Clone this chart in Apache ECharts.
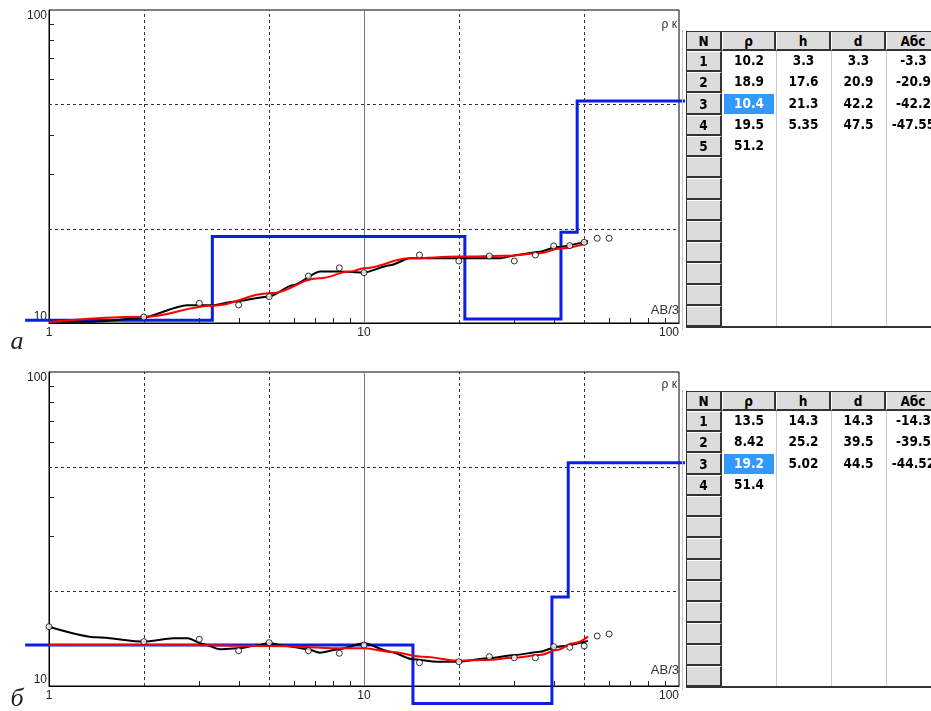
<!DOCTYPE html>
<html>
<head>
<meta charset="utf-8">
<script src="https://cdn.jsdelivr.net/npm/echarts@6/dist/echarts.min.js"></script>
<style>
html,body{margin:0;padding:0;background:#fff;width:931px;height:711px;overflow:hidden;position:relative;}
#chart{position:absolute;left:0;top:0;width:931px;height:711px;z-index:1;}
.tb{position:absolute;box-sizing:border-box;font-family:'DejaVu Sans Condensed','DejaVu Sans',sans-serif;font-weight:bold;font-size:13.5px;color:#000;text-align:center;white-space:nowrap;overflow:hidden;z-index:2;}
.btn{background:#dcdcdc;border-top:1px solid #fff;border-left:1px solid #fff;border-right:2px solid #333;border-bottom:2px solid #333;}
</style>
</head>
<body>
<div id="chart"></div>
<script>
// ---------------- DATA ----------------
// Panel "а"
const obsA_x   = [1.0, 1.38, 1.94, 2.74, 3.32, 3.84, 5.0, 5.95, 7.25, 8.3, 10, 12.1, 14.0, 27.0, 30.6, 36.2, 41.0, 51.4];
const obsA_y   = [10.1, 10.1, 10.35, 11.4, 11.4, 11.7, 12.15, 13.2, 14.6, 14.6, 14.5, 15.3, 16.1, 16.1, 16.5, 16.9, 17.5, 18.3];
const fitA_x   = [1.0, 2.0, 3.32, 5.0, 7.25, 9.03, 10, 14.0, 20.1, 28.4, 36.2, 41.9, 51.4];
const fitA_y   = [10.07, 10.47, 11.36, 12.44, 13.9, 14.6, 14.95, 16.1, 16.3, 16.4, 16.7, 17.3, 18.05];
const ptsA_x   = [2, 3, 4, 5, 6.66, 8.35, 10, 15, 20, 25, 30, 35, 40, 45, 50, 55, 60];
const ptsA_y   = [10.45, 11.56, 11.42, 12.14, 14.13, 15.0, 14.48, 16.49, 15.78, 16.37, 15.78, 16.49, 17.62, 17.67, 18.1, 18.65, 18.65];
const modelA_depth = [3.3, 20.9, 42.2, 47.5];
const modelA_rho   = [10.2, 18.9, 10.3, 19.5, 51.2];

// Panel "б"
const obsB_x   = [1.0, 1.42, 2.0, 2.48, 2.76, 3.08, 3.49, 4.0, 4.44, 5.0, 5.69, 6.63, 7.25, 8.3, 10, 12.1, 14.3, 17.05, 20, 24.6, 30.1, 36.2, 41, 51.4];
const obsB_y   = [15.45, 14.29, 13.84, 14.19, 14.19, 13.6, 13.09, 13.18, 13.41, 13.67, 13.41, 13.09, 12.77, 13.09, 13.67, 12.86, 12.16, 11.95, 11.95, 12.25, 12.55, 12.86, 13.34, 13.91];
const fitB_x   = [1.0, 2.66, 5.0, 9.03, 10, 12.1, 15.4, 20, 24.6, 29.6, 36.2, 41, 46.2, 51.4];
const fitB_y   = [13.5, 13.5, 13.41, 13.18, 13.18, 12.86, 12.4, 12.04, 12.1, 12.3, 12.55, 13.02, 13.67, 14.36];
const ptsB_x   = [1, 2, 3, 4, 5, 6.66, 8.35, 10, 15, 20, 25, 30, 35, 40, 45, 50, 55, 60];
const ptsB_y   = [15.45, 13.84, 14.09, 12.95, 13.74, 12.95, 12.71, 13.5, 11.86, 11.95, 12.4, 12.3, 12.3, 13.34, 13.28, 13.41, 14.43, 14.64];
const modelB_depth = [14.3, 39.5, 44.5];
const modelB_rho   = [13.5, 8.8, 19.2, 51.4];

// model line runs past the plot edges (AB/2 values)
const MODEL_X_START = 0.84, MODEL_X_END = 104.5;

// axes
const X_MIN = 1, X_MAX = 100, Y_MIN = 10, Y_MAX = 100;
const gridLinesX = [2, 5, 10, 20, 50];
const gridLinesY = [20, 50];
const minorTicksX = [3, 4, 6, 7, 8, 9, 30, 40, 60, 70, 80, 90];
const minorTicksY = [30, 40, 60, 70, 80, 90];

// tables
const tableHeaders = ['N', 'ρ', 'h', 'd', 'Абс'];
const tabA_rho = ['10.2', '18.9', '10.4', '19.5', '51.2'];
const tabA_h   = ['3.3', '17.6', '21.3', '5.35'];
const tabA_d   = ['3.3', '20.9', '42.2', '47.5'];
const tabA_abs = ['-3.3', '-20.9', '-42.2', '-47.55'];
const tabA_sel = 3;
const tabB_rho = ['13.5', '8.42', '19.2', '51.4'];
const tabB_h   = ['14.3', '25.2', '5.02'];
const tabB_d   = ['14.3', '39.5', '44.5'];
const tabB_abs = ['-14.3', '-39.5', '-44.52'];
const tabB_sel = 3;

// ---------------- CHART ----------------
const zip = (xs, ys) => xs.map((x, i) => [x, ys[i]]);
const px = v => Math.round(v) + 0.5;
const L = Math.log10;

function panelSeries(g, obsX, obsY, fitX, fitY, ptX, ptY, depth, rho) {
  const base = {xAxisIndex: g, yAxisIndex: g, silent: true, animation: false};
  return [
    Object.assign({}, base, {
      type: 'custom', z: 1,
      data: gridLinesX.map(v => [v, Y_MIN]),
      renderItem: (p, api) => {
        const v = api.value(0);
        const a = api.coord([v, Y_MIN]), b = api.coord([v, Y_MAX]);
        const solid = v === 10;
        return {type: 'line', shape: {x1: px(a[0]), y1: a[1], x2: px(b[0]), y2: b[1]},
          style: {stroke: solid ? '#777' : '#333', lineWidth: 1, lineDash: solid ? null : [3, 3]}};
      }
    }),
    Object.assign({}, base, {
      type: 'custom', z: 1,
      data: gridLinesY.map(v => [X_MIN, v]),
      renderItem: (p, api) => {
        const v = api.value(1);
        const a = api.coord([X_MIN, v]), b = api.coord([X_MAX, v]);
        return {type: 'line', shape: {x1: a[0], y1: px(a[1]), x2: b[0], y2: px(b[1])},
          style: {stroke: '#333', lineWidth: 1, lineDash: [3, 3]}};
      }
    }),
    Object.assign({}, base, {
      type: 'custom', z: 1,
      data: minorTicksX.map(v => [v, Y_MIN]),
      renderItem: (p, api) => {
        const a = api.coord([api.value(0), Y_MIN]);
        return {type: 'line', shape: {x1: px(a[0]), y1: a[1], x2: px(a[0]), y2: a[1] - 5},
          style: {stroke: '#222', lineWidth: 1}};
      }
    }),
    Object.assign({}, base, {
      type: 'custom', z: 1,
      data: minorTicksY.map(v => [X_MIN, v]),
      renderItem: (p, api) => {
        const a = api.coord([X_MIN, api.value(1)]);
        return {type: 'line', shape: {x1: a[0], y1: px(a[1]), x2: a[0] + 5, y2: px(a[1])},
          style: {stroke: '#222', lineWidth: 1}};
      }
    }),
    // layered model (step line), extended past the plot edges using the axes' own log mapping
    Object.assign({}, base, {
      type: 'custom', z: 3,
      data: [[X_MIN, Y_MIN]],
      renderItem: (p, api) => {
        const a = api.coord([X_MIN, Y_MIN]), b = api.coord([X_MAX, Y_MAX]);
        const lx = v => a[0] + (L(v) - L(X_MIN)) / (L(X_MAX) - L(X_MIN)) * (b[0] - a[0]);
        const ly = v => a[1] + (L(v) - L(Y_MIN)) / (L(Y_MAX) - L(Y_MIN)) * (b[1] - a[1]);
        const pts = [[lx(MODEL_X_START), ly(rho[0])]];
        depth.forEach((d, i) => {
          pts.push([lx(d), ly(rho[i])]);
          pts.push([lx(d), ly(rho[i + 1])]);
        });
        pts.push([lx(MODEL_X_END), ly(rho[rho.length - 1])]);
        return {type: 'polyline', shape: {points: pts},
          style: {stroke: '#0a1ee6', lineWidth: 3, fill: 'none', lineJoin: 'miter'}};
      }
    }),
    Object.assign({}, base, {
      type: 'line', z: 4, symbol: 'none', smooth: 0.25, smoothMonotone: 'x',
      data: zip(obsX, obsY),
      lineStyle: {color: '#000', width: 2}
    }),
    Object.assign({}, base, {
      type: 'line', z: 5, symbol: 'none', smooth: 0.4, smoothMonotone: 'x',
      data: zip(fitX, fitY),
      lineStyle: {color: '#ff0000', width: 2}
    }),
    Object.assign({}, base, {
      type: 'scatter', z: 6, symbol: 'circle', symbolSize: 6,
      data: zip(ptX, ptY),
      itemStyle: {color: '#fff', borderColor: '#000', borderWidth: 1}
    })
  ];
}

const axisLabelX = {fontSize: 12, color: '#222', margin: 4, fontFamily: 'Liberation Sans, Arial, sans-serif',
  alignMinLabel: 'center', alignMaxLabel: 'right'};
const axisLabelY = {fontSize: 12, color: '#222', margin: 2, fontFamily: 'Liberation Sans, Arial, sans-serif',
  verticalAlignMinLabel: 'bottom', verticalAlignMaxLabel: 'top'};

function xAx(g) {
  return {type: 'log', logBase: 10, gridIndex: g, min: X_MIN, max: X_MAX,
    axisLine: {show: true, lineStyle: {color: '#000', width: 1}}, axisTick: {show: false},
    splitLine: {show: false}, minorTick: {show: false}, axisLabel: axisLabelX};
}
function yAx(g) {
  return {type: 'log', logBase: 10, gridIndex: g, min: Y_MIN, max: Y_MAX,
    axisLine: {show: true, lineStyle: {color: '#000', width: 1}}, axisTick: {show: false},
    splitLine: {show: false}, minorTick: {show: false}, axisLabel: axisLabelY};
}

const textEl = (x, y, text, font, align, valign, fill) => ({
  type: 'text', x: x, y: y, silent: true, z: 10,
  style: {text: text, font: font, fill: fill || '#333', align: align, verticalAlign: valign}
});

const option = {
  animation: false,
  backgroundColor: '#fff',
  grid: [
    {left: 49, top: 10, width: 630, height: 313, show: true, borderColor: '#000', borderWidth: 1, backgroundColor: 'transparent'},
    {left: 49, top: 372, width: 630, height: 314, show: true, borderColor: '#000', borderWidth: 1, backgroundColor: 'transparent'}
  ],
  xAxis: [xAx(0), xAx(1)],
  yAxis: [yAx(0), yAx(1)],
  series: [].concat(
    panelSeries(0, obsA_x, obsA_y, fitA_x, fitA_y, ptsA_x, ptsA_y, modelA_depth, modelA_rho),
    panelSeries(1, obsB_x, obsB_y, fitB_x, fitB_y, ptsB_x, ptsB_y, modelB_depth, modelB_rho)
  ),
  graphic: [
    textEl(677, 25, 'ρ к', '12px "Liberation Sans", Arial, sans-serif', 'right', 'middle'),
    textEl(679, 310, 'AB/3', '13px "Liberation Sans", Arial, sans-serif', 'right', 'middle'),
    textEl(677, 385, 'ρ к', '12px "Liberation Sans", Arial, sans-serif', 'right', 'middle'),
    textEl(679, 670, 'AB/3', '13px "Liberation Sans", Arial, sans-serif', 'right', 'middle'),
    textEl(17, 355, 'а', 'italic 26px "Liberation Serif", "DejaVu Serif", serif', 'center', 'bottom', '#222'),
    textEl(17, 712, 'б', 'italic 26px "Liberation Serif", "DejaVu Serif", serif', 'center', 'bottom', '#222')
  ]
};

const chart = echarts.init(document.getElementById('chart'), null, {renderer: 'canvas'});
chart.setOption(option);

// ---------------- TABLES ----------------
function box(l, t, w, h, cls, text, extra) {
  const d = document.createElement('div');
  d.className = 'tb' + (cls ? ' ' + cls : '');
  d.style.left = l + 'px'; d.style.top = t + 'px';
  d.style.width = w + 'px'; d.style.height = h + 'px';
  if (text !== undefined && text !== null) { d.textContent = text; d.style.lineHeight = (h - 2) + 'px'; }
  if (extra) Object.assign(d.style, extra);
  document.body.appendChild(d);
  return d;
}

function buildTable(top, cols, sel) {
  const edges = [686, 722, 776, 831, 886, 941];
  const headH = 20, rowH = 21.23, nRows = 13;
  const bodyTop = top + headH;
  const bottom = bodyTop + rowH * nRows;
  box(682, top - 1, 1, bottom - top + 4, null, null, {background: '#c8c8c8'});
  box(edges[1], bodyTop, edges[5] - edges[1], bottom - bodyTop, null, null, {background: '#fff'});
  for (let i = 2; i <= 4; i++) box(edges[i], bodyTop, 1, bottom - bodyTop, null, null, {background: '#c8c8c8'});
  for (let i = 0; i < 5; i++) {
    box(edges[i], top, edges[i + 1] - edges[i], headH, 'btn', tableHeaders[i]);
  }
  for (let r = 0; r < nRows; r++) {
    const t = Math.round(bodyTop + r * rowH);
    const h = Math.round(bodyTop + (r + 1) * rowH) - t;
    box(edges[0], t, edges[1] - edges[0], h, 'btn', r < cols[0].length ? String(r + 1) : '');
    for (let c = 0; c < 4; c++) {
      const v = cols[c][r];
      if (v === undefined) continue;
      const isSel = (c === 0 && r + 1 === sel);
      if (isSel) {
        box(edges[1] + 2, t + 1, edges[2] - edges[1] - 4, h - 2, null, v,
          {background: '#3399ff', color: '#fff', lineHeight: (h - 3) + 'px'});
      } else {
        box(edges[c + 1], t, edges[c + 2] - edges[c + 1], h, null, v);
      }
    }
  }
  box(edges[0], top, edges[5] - edges[0], bottom - top + 1, null, null,
    {border: '1px solid #333', borderBottom: '2px solid #333', background: 'transparent'});
}

buildTable(31, [tabA_rho, tabA_h, tabA_d, tabA_abs], tabA_sel);
buildTable(391, [tabB_rho, tabB_h, tabB_d, tabB_abs], tabB_sel);
</script>
</body>
</html>
